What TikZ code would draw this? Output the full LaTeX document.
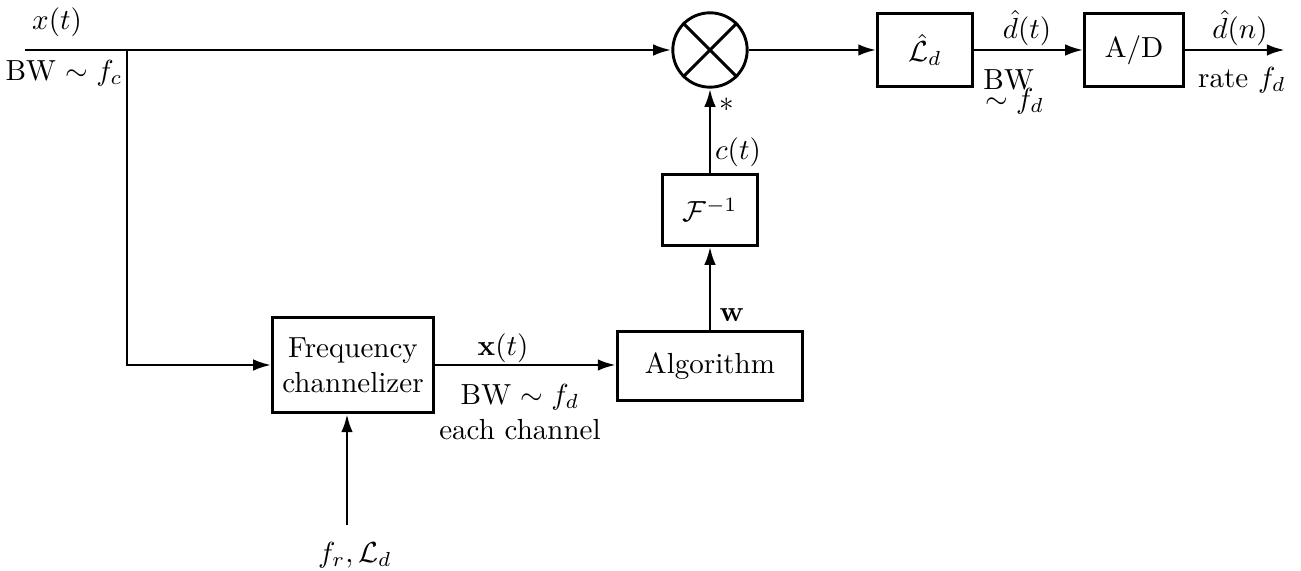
\documentclass[tikz,border=0pt]{standalone}
\usepackage{amsmath,amssymb}
\usepackage{tikz}
\usetikzlibrary{arrows.meta,positioning,calc}
\tikzset{
  >={Latex[length=2.2mm,width=1.4mm]},
  blk/.style={draw,line width=1pt,fill=white,inner sep=1pt,align=center},
  sig/.style={->,line width=1pt},
  lbl/.style={inner sep=1pt},
}
\begin{document}
\begin{tikzpicture}[x=1.21cm,y=1.21cm,
  mixer/.style={draw,circle,line width=1pt,minimum size=0.9cm,inner sep=0pt}]
  \useasboundingbox (0,0) rectangle (13.01,5.71);
  \coordinate (in) at (0.25,5.21);
  \coordinate (br) at (1.27,5.21);
  \coordinate (out) at (12.85,5.21);
  \coordinate (ctl) at (3.47,0.46);
  \node[mixer] (mix) at (7.10,5.21) {};
  \draw[line width=1pt] (mix.north west) -- (mix.south east) (mix.north east) -- (mix.south west);
  \node[blk,minimum width=1.14cm,minimum height=0.88cm] (lp) at (9.25,5.21) {$\hat{\mathcal{L}}_d$};
  \node[blk,minimum width=1.19cm,minimum height=0.88cm] (adc) at (11.34,5.21) {A/D};
  \node[blk,minimum width=1.15cm,minimum height=0.85cm] (finv) at (7.10,3.61) {$\mathcal{F}^{-1}$};
  \node[blk,minimum width=2.24cm,minimum height=0.84cm] (alg) at (7.10,2.05) {Algorithm};
  \node[blk,minimum width=1.94cm,minimum height=1.15cm] (chan) at (3.53,2.06) {Frequency\\channelizer};
  \draw[sig] (in) -- (mix);
  \draw[sig] (br) |- (chan);
  \draw[sig] (mix) -- (lp);
  \draw[sig] (lp) -- (adc);
  \draw[sig] (adc) -- (out);
  \draw[sig] (finv) -- (mix);
  \draw[sig] (alg) -- (finv);
  \draw[sig] (chan.east) -- (chan.east -| alg.west);
  \draw[sig] (ctl) -- (ctl |- chan.south);
  \node[lbl] (xin) at (0.57,5.49) {$x(t)$};
  \node[lbl] (bwc) at (0.64,4.98) {BW $\sim f_c$};
  \node[lbl] (dt) at (10.27,5.43) {$\hat{d}(t)$};
  \node[lbl,anchor=west] (bwd) at (9.80,4.91) {BW};
  \node[lbl,anchor=west] (fd) at (9.82,4.70) {$\sim f_d$};
  \node[lbl] (dn) at (12.40,5.43) {$\hat{d}(n)$};
  \node[lbl] (rate) at (12.42,4.91) {rate $f_d$};
  \node[lbl] (conj) at (7.27,4.66) {$\ast$};
  \node[lbl] (ct) at (7.38,4.19) {$c(t)$};
  \node[lbl] (wv) at (7.32,2.56) {$\mathbf{w}$};
  \node[lbl] (xv) at (5.03,2.23) {$\mathbf{x}(t)$};
  \node[lbl] (bwe) at (5.20,1.74) {BW $\sim f_d$};
  \node[lbl] (each) at (5.20,1.41) {each channel};
  \node[lbl] (ctlx) at (3.55,0.16) {$f_r, \mathcal{L}_d$};
\end{tikzpicture}
\end{document}
